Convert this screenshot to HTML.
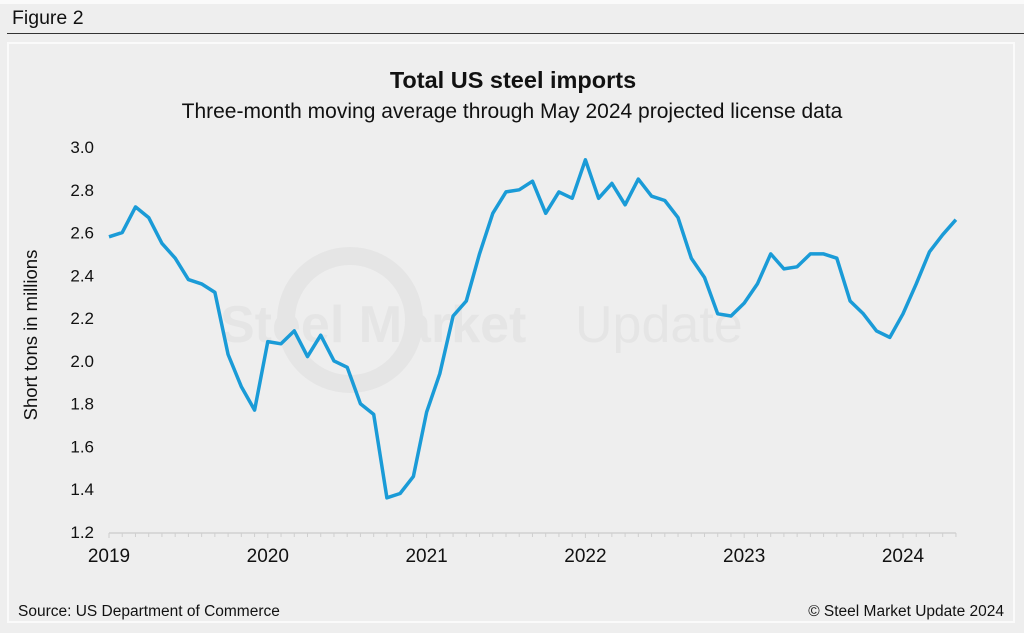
<!DOCTYPE html>
<html><head><meta charset="utf-8"><style>
body{margin:0;width:1024px;height:633px;background:#eeeeee;font-family:"Liberation Sans",Arial,sans-serif;overflow:hidden;position:relative}
#topbar{position:absolute;left:0;top:0;width:1024px;height:4px;background:#fafafa}
#fig{position:absolute;left:12px;top:7px;font-size:19.5px;color:#111}
#rule{position:absolute;left:7px;top:33px;width:1017px;height:1px;background:#333}
#panel{position:absolute;left:7px;top:42px;width:1008px;height:581px;border:2px solid #fafafa;box-sizing:border-box}
svg{position:absolute;left:0;top:0}
</style></head><body>
<div id="topbar"></div>
<div id="fig">Figure 2</div>
<div id="rule"></div>
<div id="panel"></div>
<svg width="1024" height="633">
<g opacity="0.6">
<circle cx="350" cy="320" r="64" fill="none" stroke="#e0e0e0" stroke-width="18"/>
<text x="220" y="342" font-size="52" font-weight="bold" fill="#e0e0e0" font-family="Liberation Sans, sans-serif">Steel Market</text>
<text x="575" y="342" font-size="52" fill="#e0e0e0" font-family="Liberation Sans, sans-serif">Update</text>
</g>
<text x="513" y="88" text-anchor="middle" font-size="23.5" font-weight="bold" fill="#111">Total US steel imports</text>
<text x="512" y="118" text-anchor="middle" font-size="21" fill="#111">Three-month moving average through May 2024 projected license data</text>
<text transform="translate(37,335) rotate(-90)" text-anchor="middle" font-size="18.5" fill="#111">Short tons in millions</text>
<g id="yt"></g><g id="xt"></g><g id="ln"></g>
<text x="18" y="616" font-size="15.5" fill="#111">Source: US Department of Commerce</text>
<text x="1004" y="616" text-anchor="end" font-size="15.5" fill="#111">© Steel Market Update 2024</text>
</svg>
<script>
const yearLabels=["2019","2020","2021","2022","2023","2024"];
const yTicks=[1.2,1.4,1.6,1.8,2.0,2.2,2.4,2.6,2.8,3.0];
const imports2019=[2.58,2.60,2.72,2.67,2.55,2.48,2.38,2.36,2.32,2.03,1.88,1.77];
const imports2020=[2.09,2.08,2.14,2.02,2.12,2.00,1.97,1.80,1.75,1.36,1.38,1.46];
const imports2021=[1.76,1.94,2.21,2.28,2.50,2.69,2.79,2.80,2.84,2.69,2.79,2.76];
const imports2022=[2.94,2.76,2.83,2.73,2.85,2.77,2.75,2.67,2.48,2.39,2.22,2.21];
const imports2023=[2.27,2.36,2.50,2.43,2.44,2.50,2.50,2.48,2.28,2.22,2.14,2.11];
const imports2024=[2.22,2.36,2.51,2.59,2.66];
const values=[].concat(imports2019,imports2020,imports2021,imports2022,imports2023,imports2024);
const NS="http://www.w3.org/2000/svg";
const x0=109,pxm=(903-109)/60,y0=532,pxu=(532-147)/1.8;
const X=i=>x0+i*pxm, Y=v=>y0-(v-1.2)*pxu;
function mk(t,a,p){const e=document.createElementNS(NS,t);for(const k in a)e.setAttribute(k,a[k]);p.appendChild(e);return e;}
const yt=document.getElementById('yt'),xt=document.getElementById('xt'),ln=document.getElementById('ln');
yTicks.forEach(v=>{const t=mk('text',{x:94,y:Y(v)+6,'text-anchor':'end','font-size':17,fill:'#111'},yt);t.textContent=v.toFixed(1);

});
const n=values.length;
const ax=mk('line',{x1:X(0),x2:X(n-1),y1:y0+1,y2:y0+1,stroke:'#d8d8d8','stroke-width':2},xt);


for(let i=0;i<n;i++){const tk=mk('line',{x1:X(i),x2:X(i),y1:y0+1,y2:y0+(i%12==0?6:5),stroke:'#cfcfcf','stroke-width':1},xt);

}
yearLabels.forEach((l,k)=>{const t=mk('text',{x:X(k*12),y:y0+30,'text-anchor':'middle','font-size':19,fill:'#111'},xt);t.textContent=l;

});
const d=values.map((v,i)=>(i?'L':'M')+X(i).toFixed(1)+','+Y(v).toFixed(1)).join('');
const p=mk('path',{d:d,fill:'none',stroke:'#1a9bd7','stroke-width':3.5,'stroke-linejoin':'round'},ln);


</script>
</body></html>
